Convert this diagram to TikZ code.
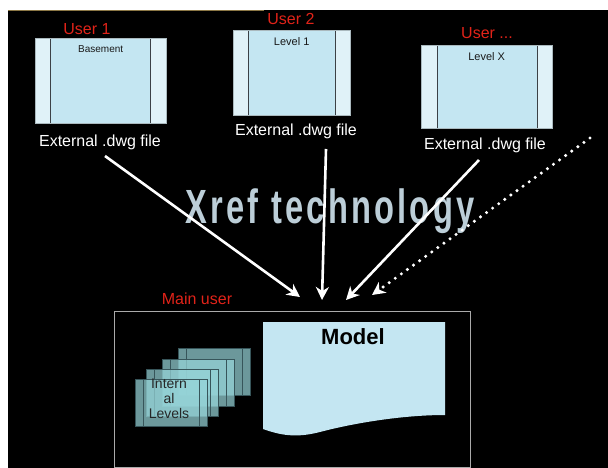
\documentclass[tikz,border=0pt]{standalone}
\usepackage{fontspec}
\setmainfont{Liberation Sans}
\newfontfamily\xreffont[LetterSpace=10]{Liberation Sans}
\usetikzlibrary{arrows.meta}
\definecolor{ured}{RGB}{225,35,25}
\definecolor{docblue}{RGB}{196,230,242}
\definecolor{docedge}{RGB}{224,242,248}
\definecolor{docline}{RGB}{60,65,70}
\definecolor{docborder}{RGB}{170,185,190}
\definecolor{levfill}{RGB}{150,212,216}
\definecolor{levdraw}{RGB}{55,85,90}
\definecolor{xrefcol}{RGB}{188,206,216}
\definecolor{goldline}{RGB}{140,120,70}
\definecolor{mainborder}{RGB}{170,170,170}
\begin{document}
\begin{tikzpicture}[x=1pt,y=-1pt,
  docbox/.style={fill=docblue, inner sep=0pt, anchor=north west},
  ulab/.style={text=ured, font=\fontsize{16}{16}\selectfont, inner sep=0pt},
  extlab/.style={text=white, font=\fontsize{16}{16}\selectfont, inner sep=0pt},
  inlab/.style={text=black!90, font=\fontsize{11}{11}\selectfont, inner sep=0pt, anchor=north},
  levbox/.style={fill=levfill, fill opacity=0.72, draw=levdraw, line width=0.8pt, minimum width=72pt, minimum height=47pt, inner sep=0pt, anchor=north west},
  arr/.style={white, line width=2.6pt, -{Stealth[length=13pt,width=13pt,inset=4pt]}},
  dotarr/.style={white, line width=3.4pt, line cap=round, dash pattern=on 0pt off 7.5pt, -{Stealth[length=13pt,width=13pt,inset=4pt]}}
]
\useasboundingbox (0,0) rectangle (608,468);
\fill[white] (0,0) rectangle (608,468);
\fill[black] (8,10) rectangle (608,468);
\draw[goldline, line width=1pt] (8,10.5) -- (264,10.5);

% external documents
\foreach \n/\x/\y/\w/\h/\l/\r in {b1/35/38/131/85/15/16, b2/233/30/117/85/15/15, b3/421/45/131/83/16/15}{
  \node[docbox, minimum width=\w pt, minimum height=\h pt] (\n) at (\x,\y) {};
  \fill[docedge] (\n.north west) rectangle ([xshift=\l pt]\n.south west);
  \fill[docedge] ([xshift=-\r pt]\n.north east) rectangle (\n.south east);
  \draw[docline, line width=1pt] ([xshift=\l pt]\n.north west) -- ([xshift=\l pt]\n.south west);
  \draw[docline, line width=1pt] ([xshift=-\r pt]\n.north east) -- ([xshift=-\r pt]\n.south east);
  \draw[docborder, line width=0.8pt] (\n.north west) rectangle (\n.south east);
}
\node[ulab] (u1) at (87,29) {User 1};
\node[ulab] (u2) at (291,19) {User 2};
\node[ulab] (u3) at (487,33) {User ...};
\node[inlab, font=\fontsize{10}{10}\selectfont] (t1) at ([yshift=-7pt]b1.north) {Basement};
\node[inlab] (t2) at ([yshift=-7pt]b2.north) {Level 1};
\node[inlab] (t3) at ([yshift=-7pt]b3.north) {Level X};
\node[extlab] (e1) at (100,142) {External .dwg file};
\node[extlab] (e2) at (296,131) {External .dwg file};
\node[extlab] (e3) at (485,145) {External .dwg file};

% Xref title
\node[text=xrefcol, font=\xreffont\bfseries\fontsize{48}{48}\selectfont, xscale=0.68, inner sep=0pt] (xref) at (330,211) {Xref technology};

% main user
\node[ulab] (mu) at (197,299) {Main user};
\node[draw=mainborder, line width=1pt, minimum width=356pt, minimum height=156pt, inner sep=0pt, anchor=north west] (main) at (114,311) {};

% model document
\fill[docblue] (263,322) -- (445,322) -- (445,415)
  .. controls (400,415) and (350,424) .. (320,432)
  .. controls (300,437) and (285,437) .. (263,429) -- cycle;
\node[font=\bfseries\fontsize{22}{22}\selectfont, inner sep=0pt] (model) at (353,337) {Model};

% internal levels
\foreach \n/\x/\y in {l4/178/348, l3/162/359, l2/146/369, l1/135/379}{
  \node[levbox] (\n) at (\x,\y) {};
  \draw[levdraw, line width=0.8pt] ([xshift=8pt]\n.north west) -- ([xshift=8pt]\n.south west);
  \draw[levdraw, line width=0.8pt] ([xshift=-8pt]\n.north east) -- ([xshift=-8pt]\n.south east);
}
\node[align=center, text=black!85, font=\fontsize{14}{15}\selectfont, inner sep=0pt] (il) at (169,399) {Intern\\al\\Levels};

% arrows
\coordinate (s1) at (105,156);
\coordinate (s2) at (326,149);
\coordinate (s3) at (479,160);
\coordinate (s4) at (590,138);
\coordinate (d1) at (300,297);
\coordinate (d2) at (322,300);
\coordinate (d3) at (346,300);
\coordinate (d4) at (372,295);
\draw[arr] (s1) -- (d1);
\draw[arr] (s2) -- (d2);
\draw[arr] (s3) -- (d3);
\draw[dotarr] (s4) -- (d4);
\end{tikzpicture}
\end{document}
